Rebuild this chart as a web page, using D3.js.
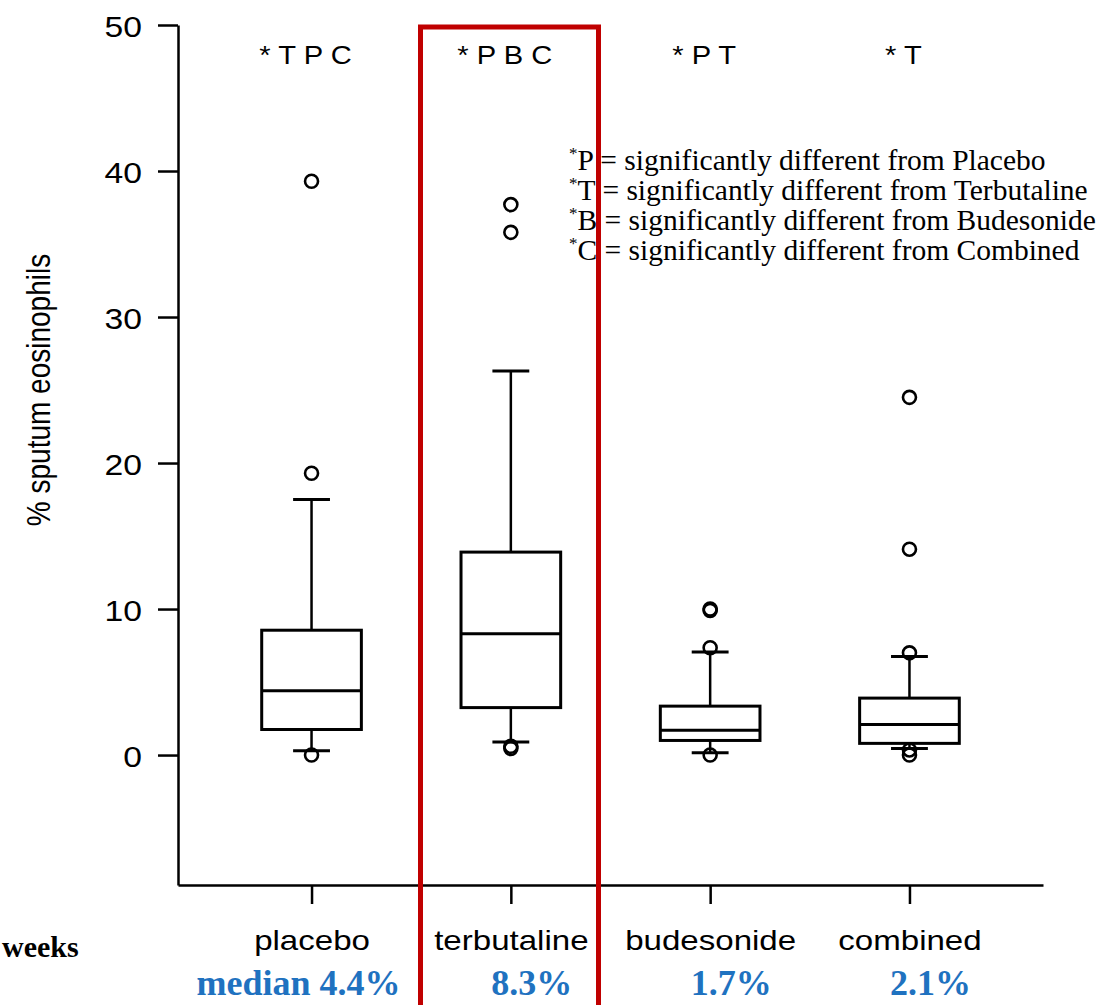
<!DOCTYPE html>
<html>
<head>
<meta charset="utf-8">
<script src="https://cdn.jsdelivr.net/npm/d3@7"></script>
<style>
  body { margin: 0; background: #fff; }
  svg { display: block; }
</style>
</head>
<body>
<svg id="chart" width="1102" height="1005"></svg>
<script>
// Treatment groups and box-plot statistics (% sputum eosinophils)
const categories   = ["placebo", "terbutaline", "budesonide", "combined"];
const q1           = [1.75, 3.25, 1.0, 0.8];
const medians      = [4.4, 8.3, 1.7, 2.1];
const q3           = [8.55, 13.9, 3.35, 3.9];
const whiskerLow   = [0.3, 0.9, 0.15, 0.45];
const whiskerHigh  = [17.5, 26.3, 7.05, 6.75];
const outliers     = [
  [39.3, 19.3, 0.0],
  [37.7, 35.8, 0.6, 0.45],
  [10.0, 9.9, 7.35, 0.0],
  [24.5, 14.1, 7.0, 0.35, 0.0]
];
// Significance codes shown above each group
const significance = ["T P C", "P B C", "P T", "T"];
const yTicks       = [0, 10, 20, 30, 40, 50];
// Key for the significance codes
const legendCodes  = ["P", "T", "B", "C"];
const legendNames  = ["Placebo", "Terbutaline", "Budesonide", "Combined"];

const svg = d3.select("#chart");
const sans = "'Liberation Sans', Arial, Helvetica, sans-serif";
const serif = "'Liberation Serif', 'Times New Roman', serif";
const STRETCH = 1.16;

// widen glyphs horizontally (the figure's text is set slightly expanded)
function stretch(sel, k) {
  sel.each(function () {
    const w = this.getComputedTextLength();
    d3.select(this).attr("textLength", w * k).attr("lengthAdjust", "spacingAndGlyphs");
  });
}

const x = d3.scalePoint().domain(categories).range([178, 1043]).padding(0.67);
const y = d3.scaleLinear().domain([-8.9, 50]).range([885, 25]);

// Y axis
const gy = svg.append("g")
  .attr("transform", "translate(178,0)")
  .call(d3.axisLeft(y).tickValues(yTicks).tickSize(20).tickSizeOuter(0).tickPadding(16));
gy.selectAll("path, line").attr("stroke", "#000").attr("stroke-width", 2.5);
gy.selectAll("text").attr("font-family", sans).attr("font-size", 29).attr("fill", "#000").attr("dy", "0.38em");
stretch(gy.selectAll("text"), STRETCH);

// X axis
const gx = svg.append("g")
  .attr("transform", "translate(0,885)")
  .call(d3.axisBottom(x).tickSize(19).tickSizeOuter(0).tickPadding(26));
gx.selectAll("path, line").attr("stroke", "#000").attr("stroke-width", 2.5);
gx.selectAll("text").attr("font-family", sans).attr("font-size", 28.5).attr("fill", "#000");
stretch(gx.selectAll("text"), STRETCH);

// Y axis title
svg.append("text")
  .attr("transform", "translate(50,390) rotate(-90) scale(1," + STRETCH + ")")
  .attr("text-anchor", "middle")
  .attr("font-family", sans)
  .attr("font-size", 28)
  .text("% sputum eosinophils");

// Box plots
const boxW = x.step() * 0.5;
const capW = x.step() * 0.185;
const groups = svg.append("g").selectAll("g")
  .data(categories)
  .join("g")
  .attr("transform", d => `translate(${x(d)},0)`);

groups.each(function (d, i) {
  const g = d3.select(this);
  const line = (x1, y1, x2, y2, w) => g.append("line")
    .attr("x1", x1).attr("y1", y1).attr("x2", x2).attr("y2", y2)
    .attr("stroke", "#000").attr("stroke-width", w);
  // whiskers
  line(0, y(q3[i]), 0, y(whiskerHigh[i]), 2.5);
  line(0, y(q1[i]), 0, y(whiskerLow[i]), 2.5);
  line(-capW / 2, y(whiskerHigh[i]), capW / 2, y(whiskerHigh[i]), 3);
  line(-capW / 2, y(whiskerLow[i]), capW / 2, y(whiskerLow[i]), 3);
  // box
  g.append("rect")
    .attr("x", -boxW / 2).attr("width", boxW)
    .attr("y", y(q3[i])).attr("height", y(q1[i]) - y(q3[i]))
    .attr("fill", "none").attr("stroke", "#000").attr("stroke-width", 3);
  // median
  line(-boxW / 2, y(medians[i]), boxW / 2, y(medians[i]), 3);
  // outliers
  g.selectAll("circle")
    .data(outliers[i])
    .join("circle")
    .attr("cx", 0).attr("cy", v => y(v)).attr("r", 6.5)
    .attr("fill", "none").attr("stroke", "#000").attr("stroke-width", 2.6);
});

// Significance codes above the groups
const sig = svg.append("g").selectAll("text")
  .data(categories)
  .join("text")
  .attr("x", d => x(d) - 6)
  .attr("y", 64)
  .attr("text-anchor", "middle")
  .attr("font-family", sans)
  .attr("font-size", 26.5)
  .text((d, i) => "* " + significance[i]);
stretch(sig, 1.1);

// Key for the codes
const legend = svg.append("g").attr("font-family", serif).attr("font-size", 29.5).attr("fill", "#000");
legendCodes.forEach((c, i) => {
  const t = legend.append("text").attr("x", 569).attr("y", 170 + i * 30);
  t.append("tspan").attr("font-size", 17).attr("dy", -11).text("*");
  t.append("tspan").attr("dy", 11).text(c);
  t.append("tspan").text(" = significantly different from " + legendNames[i]);
});

// Median annotations
const blue = "#1f72c0";
svg.append("g").selectAll("text")
  .data(categories)
  .join("text")
  .attr("x", (d, i) => i === 0 ? x(d) + 89 : x(d) + 21)
  .attr("y", 995)
  .attr("text-anchor", (d, i) => i === 0 ? "end" : "middle")
  .attr("font-family", serif)
  .attr("font-weight", "bold")
  .attr("font-size", 36)
  .attr("fill", blue)
  .text((d, i) => (i === 0 ? "median " : "") + medians[i] + "%");

svg.append("text")
  .attr("x", 2).attr("y", 957)
  .attr("font-family", serif)
  .attr("font-weight", "bold")
  .attr("font-size", 30)
  .text("weeks");

// Highlight frame around the terbutaline group
svg.append("rect")
  .attr("x", 420.5).attr("y", 27)
  .attr("width", 178).attr("height", 1010)
  .attr("fill", "none")
  .attr("stroke", "#c00000")
  .attr("stroke-width", 5);
</script>
</body>
</html>
